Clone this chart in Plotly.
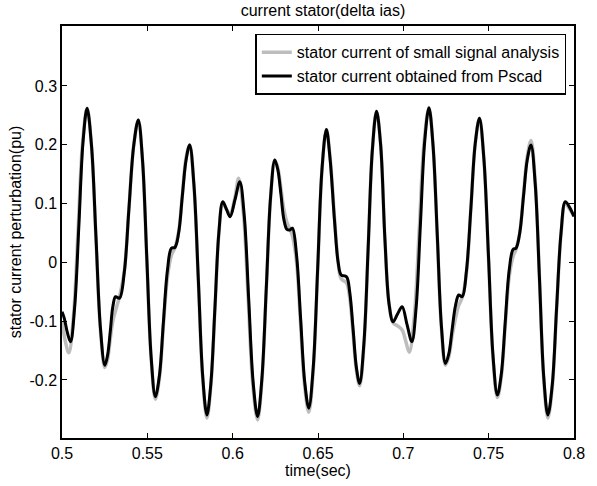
import plotly.graph_objects as go

# Pscad (black) curve points
t_pscad = [0.5, 0.5013, 0.5032, 0.505, 0.5074, 0.5099, 0.5123, 0.5147, 0.5173, 0.5199,
           0.5225, 0.5251, 0.5267, 0.5283, 0.5298, 0.5314, 0.5337, 0.5365, 0.5392, 0.542,
           0.5447, 0.5472, 0.5497, 0.5522, 0.5547, 0.5571, 0.5594, 0.5618, 0.5641, 0.5662,
           0.5684, 0.5705, 0.5727, 0.5748, 0.5773, 0.5799, 0.5824, 0.5849, 0.5872, 0.5896,
           0.5919, 0.5942, 0.5964, 0.5985, 0.6014, 0.6042, 0.6068, 0.6094, 0.612, 0.6146,
           0.6171, 0.6197, 0.6222, 0.6247, 0.6265, 0.6283, 0.63, 0.6318, 0.6335, 0.635,
           0.6374, 0.6398, 0.6422, 0.6446, 0.6472, 0.6498, 0.6523, 0.6549, 0.6571, 0.6597,
           0.6618, 0.6636, 0.6667, 0.6686, 0.6706, 0.6725, 0.6744, 0.6769, 0.6794, 0.6818,
           0.6843, 0.6867, 0.6892, 0.6916, 0.694, 0.6966, 0.6993, 0.7021, 0.705, 0.7075,
           0.71, 0.7125, 0.715, 0.7174, 0.7199, 0.7223, 0.7247, 0.7267, 0.7286, 0.7306,
           0.7325, 0.7345, 0.737, 0.7396, 0.7421, 0.7446, 0.7472, 0.7499, 0.7525, 0.7551,
           0.7574, 0.7597, 0.762, 0.7643, 0.766, 0.7682, 0.7704, 0.7726, 0.7748, 0.7773,
           0.7798, 0.7822, 0.7847, 0.7873, 0.7898, 0.7924, 0.7949, 0.7975, 0.8]
y_pscad = [-0.084, -0.095, -0.12, -0.135, -0.077, 0.0635, 0.204, 0.262, 0.198, 0.0435,
           -0.111, -0.175, -0.158, -0.117, -0.075, -0.0585, -0.061, -0.017, 0.0905, 0.198,
           0.242, 0.173, 0.0067, -0.160, -0.2286, -0.192, -0.102, -0.013, 0.024, 0.0255,
           0.051, 0.1125, 0.174, 0.1995, 0.132, -0.030, -0.192, -0.2597, -0.207, -0.078,
           0.050, 0.103, 0.090, 0.0776, 0.107, 0.137, 0.079, -0.063, -0.204, -0.2626,
           -0.199, -0.044, 0.110, 0.174, 0.157, 0.115, 0.073, 0.056, 0.055, 0.058,
           0.013, -0.095, -0.203, -0.248, -0.179, -0.011, 0.157, 0.226, 0.175, 0.07,
           0.0, -0.0216, -0.0245, -0.051, -0.115, -0.179, -0.206, -0.138, 0.0255, 0.189,
           0.257, 0.20, 0.04, -0.07, -0.101, -0.088, -0.0755, -0.105, -0.135, -0.077,
           0.064, 0.205, 0.263, 0.199, 0.0455, -0.108, -0.172, -0.155, -0.114, -0.073,
           -0.0556, -0.0585, -0.014, 0.093, 0.201, 0.245, 0.176, 0.0097, -0.157, -0.2257,
           -0.190, -0.102, -0.014, 0.022, 0.024, 0.050, 0.112, 0.174, 0.1995, 0.132,
           -0.030, -0.192, -0.2597, -0.207, -0.078, 0.050, 0.103, 0.093, 0.078]

# small signal analysis (gray) curve points
t_ssa = [0.5, 0.502, 0.504, 0.5067, 0.5094, 0.512, 0.5147, 0.5173, 0.5199, 0.5225,
         0.5251, 0.5267, 0.5283, 0.5298, 0.5314, 0.5337, 0.5365, 0.5392, 0.542, 0.5447,
         0.5472, 0.5497, 0.5522, 0.5547, 0.5571, 0.5594, 0.5618, 0.5641, 0.5662, 0.5684,
         0.5705, 0.5727, 0.5748, 0.5773, 0.5799, 0.5824, 0.5849, 0.5872, 0.5896, 0.5919,
         0.5942, 0.5964, 0.5985, 0.6012, 0.6035, 0.6063, 0.6091, 0.6118, 0.6146, 0.6171,
         0.6197, 0.6222, 0.6247, 0.6265, 0.6283, 0.63, 0.6318, 0.6335, 0.635, 0.6374,
         0.6398, 0.6422, 0.6446, 0.6472, 0.6498, 0.6523, 0.6549, 0.6571, 0.6597, 0.6618,
         0.6636, 0.6667, 0.6686, 0.6706, 0.6725, 0.6744, 0.6769, 0.6794, 0.6818, 0.6843,
         0.6867, 0.6892, 0.6916, 0.694, 0.6966, 0.6993, 0.7015, 0.7035, 0.7064, 0.7093,
         0.7121, 0.715, 0.7174, 0.7199, 0.7223, 0.7247, 0.7267, 0.7286, 0.7306, 0.7325,
         0.7345, 0.737, 0.7396, 0.7421, 0.7446, 0.7472, 0.7499, 0.7525, 0.7551, 0.7574,
         0.7597, 0.762, 0.7643, 0.766, 0.7682, 0.7704, 0.7726, 0.7748, 0.7773, 0.7798,
         0.7822, 0.7847, 0.7873, 0.7898, 0.7924, 0.7949, 0.7975, 0.8]
y_ssa = [-0.10, -0.135, -0.154, -0.093, 0.054, 0.201, 0.262, 0.197, 0.0415, -0.114,
         -0.179, -0.165, -0.13, -0.10, -0.082, -0.058, -0.015, 0.0905, 0.198, 0.242,
         0.172, 0.0045, -0.162, -0.233, -0.196, -0.108, -0.025, 0.012, 0.025, 0.053,
         0.114, 0.178, 0.20, 0.131, -0.0325, -0.196, -0.265, -0.211, -0.081, 0.048,
         0.10, 0.09, 0.082, 0.108, 0.143, 0.083, -0.0625, -0.208, -0.268, -0.203,
         -0.047, 0.109, 0.174, 0.160, 0.125, 0.09, 0.068, 0.057, 0.045, 0.001,
         -0.105, -0.211, -0.255, -0.185, -0.0145, 0.156, 0.226, 0.178, 0.075, 0.0,
         -0.028, -0.035, -0.061, -0.1225, -0.184, -0.21, -0.142, 0.0235, 0.189, 0.257,
         0.20, 0.04, -0.07, -0.103, -0.108, -0.115, -0.135, -0.153, -0.092, 0.055,
         0.202, 0.263, 0.199, 0.044, -0.111, -0.175, -0.16, -0.125, -0.095, -0.073,
         -0.06, -0.018, 0.093, 0.201, 0.245, 0.176, 0.0075, -0.161, -0.23, -0.195,
         -0.108, -0.025, 0.01, 0.022, 0.05, 0.115, 0.18, 0.207, 0.137, -0.029,
         -0.196, -0.265, -0.211, -0.081, 0.048, 0.10, 0.09, 0.078]

x_ticks = [0.5, 0.55, 0.6, 0.65, 0.7, 0.75, 0.8]
x_tick_text = ["0.5", "0.55", "0.6", "0.65", "0.7", "0.75", "0.8"]
y_ticks = [-0.2, -0.1, 0, 0.1, 0.2, 0.3]
y_tick_text = ["-0.2", "-0.1", "0", "0.1", "0.2", "0.3"]

font_family = "Liberation Sans, Arial, sans-serif"

fig = go.Figure()
fig.add_trace(go.Scatter(x=t_ssa, y=y_ssa, mode="lines",
                         name="stator current of small signal analysis",
                         line=dict(color="#bdbdbd", width=3.5, shape="spline", smoothing=1.0)))
fig.add_trace(go.Scatter(x=t_pscad, y=y_pscad, mode="lines",
                         name="stator current obtained from Pscad",
                         line=dict(color="black", width=3, shape="spline", smoothing=1.0)))

axis_common = dict(showline=True, linecolor="black", linewidth=1.5, mirror="ticks",
                   ticks="inside", ticklen=5, tickwidth=1, tickcolor="black",
                   showgrid=False, zeroline=False,
                   tickfont=dict(family=font_family, size=16, color="black"))

fig.update_layout(
    width=597, height=486,
    margin=dict(l=62, r=12, t=26, b=48),
    paper_bgcolor="white", plot_bgcolor="white",
    font=dict(family=font_family, color="black"),
    title=dict(text="current stator(delta ias)", x=0.541, xanchor="center", y=0.979, yanchor="middle",
               font=dict(family=font_family, size=16, color="black")),
    xaxis=dict(range=[0.5, 0.8], tickvals=x_ticks, ticktext=x_tick_text,
               title=dict(text="time(sec)", font=dict(family=font_family, size=16), standoff=0),
               **axis_common),
    yaxis=dict(range=[-0.2988, 0.4019], tickvals=y_ticks, ticktext=y_tick_text,
               title=dict(text="stator current perturbation(pu)", font=dict(family=font_family, size=16), standoff=4),
               **axis_common),
    showlegend=True,
    legend=dict(x=0.985, xanchor="right", y=0.981, yanchor="top",
                bgcolor="white", bordercolor="black", borderwidth=1.5,
                font=dict(family=font_family, size=16, color="black"),
                tracegroupgap=0, itemwidth=30),
)

fig.write_html("out.html")
